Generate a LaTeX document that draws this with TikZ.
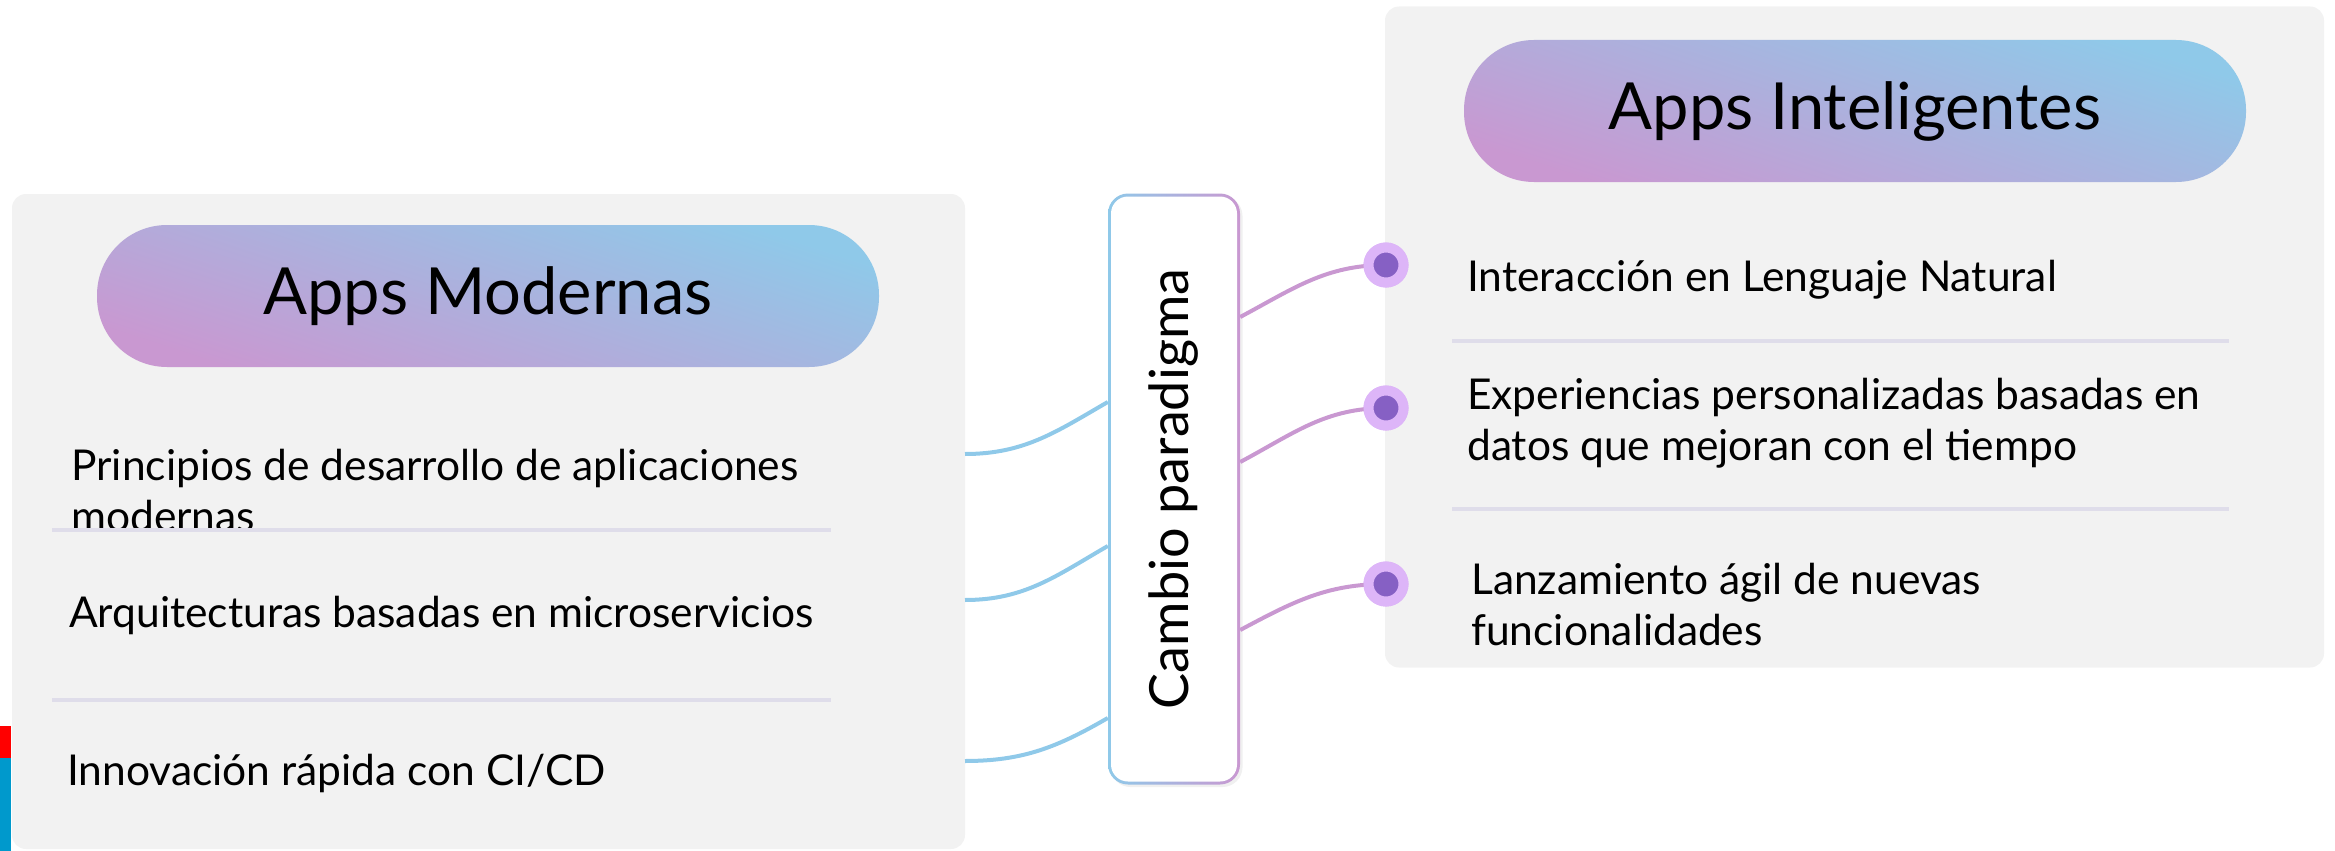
\documentclass[tikz,border=0pt]{standalone}
\usepackage{fontspec}
\setmainfont{Lato}
\usetikzlibrary{positioning,shadows}
\definecolor{panelgray}{HTML}{F2F2F2}
\definecolor{skyb}{HTML}{8FC9E9}
\definecolor{orchid}{HTML}{C998D1}
\definecolor{sepline}{HTML}{DFDDEA}
\definecolor{dotout}{HTML}{DDB5F8}
\definecolor{dotin}{HTML}{8660C4}
\definecolor{tabblue}{HTML}{0099CC}

\begin{document}
\begin{tikzpicture}[x=1pt,y=-1pt,
  panel/.style={rectangle,rounded corners=14pt,fill=panelgray,inner sep=0},
  pill/.style={rectangle,rounded corners=70pt,minimum width=782pt,minimum height=142pt,
    top color=skyb,bottom color=orchid,shading angle=-18,font=\fontsize{65}{70}\selectfont},
  item/.style={anchor=west,align=left,inner sep=0,font=\fontsize{42.5}{51}\selectfont},
  sep/.style={sepline,line width=4pt},
  lconn/.style={skyb,line width=4pt},
  rconn/.style={orchid,line width=4pt},
  dot/.style={circle,fill=dotin,draw=dotout,line width=10pt,minimum size=35pt,inner sep=0}]
  \useasboundingbox (0,0) rectangle (2335,851);
  \fill[red] (0,726) rectangle (11,758);
  \fill[tabblue] (0,758) rectangle (11,851);

  \node[panel,minimum width=953pt,minimum height=655pt] (panelL) at (488.5,521.5) {};
  \node[panel,minimum width=939pt,minimum height=661pt] (panelR) at (1854.5,337) {};
  \node[pill] (titleL) at (488,296) {Apps Modernas};
  \node[pill] (titleR) at (1855,111) {Apps Inteligentes};

  \node[item] (m1) at (71,491) {Principios de desarrollo de aplicaciones\\modernas};
  \node[item] (m2) at (69,615) {Arquitecturas basadas en microservicios};
  \node[item] (m3) at (67,773) {Innovación rápida con CI/CD};
  \draw[sep] (52,530) -- (831,530);
  \draw[sep] (52,700) -- (831,700);

  \node[dot] (d1) at (1386,265) {};
  \node[dot] (d2) at (1386,408) {};
  \node[dot] (d3) at (1386,584) {};
  \node[item] (i1) at (1467,280) {Interacción en Lenguaje Natural};
  \node[item] (i2) at (1467,423) {Experiencias personalizadas basadas en\\datos que mejoran con el tiempo};
  \node[item] (i3) at (1471,605) {Lanzamiento ágil de nuevas\\funcionalidades};
  \draw[sep] (1452,341) -- (2229,341);
  \draw[sep] (1452,509) -- (2229,509);

  \node[rounded corners=20pt,minimum width=132pt,minimum height=591pt,
    left color=skyb,right color=orchid,drop shadow={opacity=0.12}] (mid) at (1174,489) {};
  \node[rounded corners=17pt,fill=white,minimum width=585pt,minimum height=126pt,rotate=90,
    font=\fontsize{54}{60}\selectfont] (midtext) at (mid) {Cambio paradigma};

  \coordinate (l1) at (965,454);
  \coordinate (l2) at (965,600);
  \coordinate (l3) at (965,761);
  \path[lconn] (l1) edge[out=0,in=210] ([yshift=87pt]mid.west)
    (l2) edge[out=0,in=210] ([yshift=-57pt]mid.west)
    (l3) edge[out=0,in=210] ([yshift=-229pt]mid.west);
  \path[rconn] ([yshift=172pt]mid.east) edge[out=28,in=180] (d1.center)
    ([yshift=27pt]mid.east) edge[out=28,in=180] (d2.center)
    ([yshift=-141pt]mid.east) edge[out=28,in=180] (d3.center);
  \node[dot] at (d1) {};
  \node[dot] at (d2) {};
  \node[dot] at (d3) {};
\end{tikzpicture}
\end{document}
